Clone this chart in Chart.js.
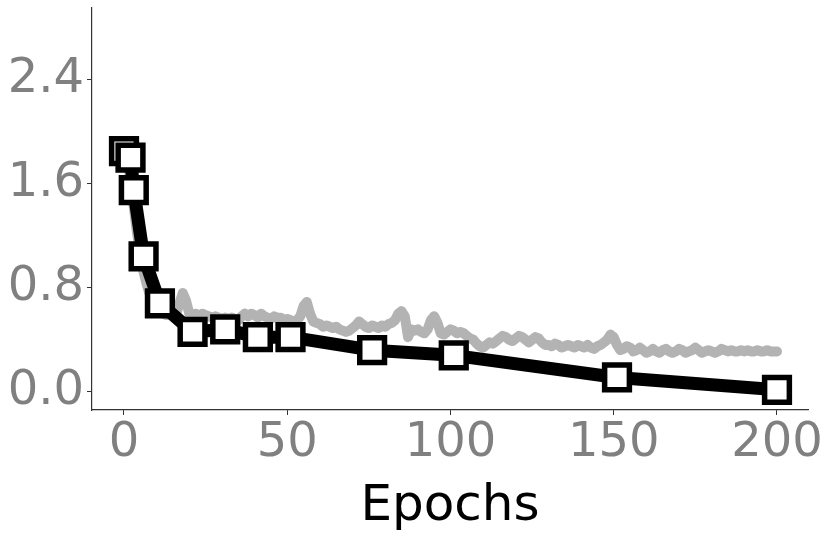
<!DOCTYPE html>
<html>
<head>
<meta charset="utf-8">
<script src="https://cdn.jsdelivr.net/npm/chart.js@4/dist/chart.umd.min.js"></script>
<style>
  body { margin: 0; background: #fff; }
  canvas { display: block; }
</style>
</head>
<body>
<canvas id="myChart" width="831" height="539"></canvas>
<script>
const ctx = document.getElementById("myChart").getContext("2d");

// black line w/ square markers
const markerEpochs = [0, 2, 3, 6, 11, 21, 31, 41, 51, 76, 101, 151, 200];
const markerLoss = [1.85, 1.80, 1.55, 1.04, 0.68, 0.46, 0.48, 0.42, 0.42, 0.32, 0.28, 0.11, 0.015];

// gray noisy curve, one value per epoch 0..200
const curveLoss = [
	1.86, 1.80, 1.62, 1.42, 1.22, 1.05, 0.92, 0.82, 0.74, 0.68,
	0.64, 0.61, 0.60, 0.59, 0.60, 0.59, 0.60, 0.68, 0.76, 0.70,
	0.60, 0.59, 0.60, 0.58, 0.60, 0.59, 0.58, 0.57, 0.58, 0.57,
	0.56, 0.57, 0.56, 0.57, 0.56, 0.55, 0.58, 0.60, 0.58, 0.60,
	0.59, 0.57, 0.60, 0.58, 0.57, 0.56, 0.58, 0.57, 0.57, 0.55,
	0.56, 0.55, 0.54, 0.55, 0.58, 0.66, 0.69, 0.60, 0.54, 0.53,
	0.52, 0.50, 0.51, 0.50, 0.49, 0.50, 0.48, 0.47, 0.46, 0.47,
	0.49, 0.51, 0.54, 0.52, 0.50, 0.49, 0.51, 0.50, 0.49, 0.51,
	0.50, 0.52, 0.53, 0.55, 0.60, 0.62, 0.58, 0.42, 0.48, 0.47,
	0.48, 0.46, 0.45, 0.48, 0.55, 0.58, 0.53, 0.45, 0.44, 0.46,
	0.48, 0.47, 0.45, 0.46, 0.45, 0.43, 0.41, 0.40, 0.37, 0.35,
	0.34, 0.36, 0.38, 0.37, 0.39, 0.41, 0.43, 0.42, 0.40, 0.39,
	0.41, 0.43, 0.42, 0.40, 0.38, 0.40, 0.42, 0.41, 0.38, 0.36,
	0.36, 0.35, 0.37, 0.36, 0.34, 0.35, 0.36, 0.35, 0.34, 0.36,
	0.35, 0.34, 0.36, 0.34, 0.33, 0.35, 0.36, 0.38, 0.40, 0.44,
	0.42, 0.36, 0.32, 0.33, 0.35, 0.34, 0.31, 0.32, 0.34, 0.32,
	0.30, 0.31, 0.33, 0.31, 0.30, 0.32, 0.33, 0.31, 0.30, 0.31,
	0.33, 0.32, 0.30, 0.31, 0.32, 0.34, 0.32, 0.30, 0.31, 0.32,
	0.31, 0.30, 0.31, 0.33, 0.32, 0.31, 0.32, 0.31, 0.31, 0.32,
	0.31, 0.32, 0.31, 0.31, 0.32, 0.31, 0.31, 0.32, 0.31, 0.31,
	0.31
];

const xTicks = [0, 50, 100, 150, 200];
const yTicks = [0.0, 0.8, 1.6, 2.4];

const markerPoints = markerEpochs.map((e, i) => ({ x: e, y: markerLoss[i] }));
const curvePoints = curveLoss.map((v, i) => ({ x: i, y: v }));

const tickFont = { family: "'DejaVu Sans'", size: 48 };

const chart = new Chart(ctx, {
	type: "line",
	data: {
		datasets: [{
			label: "markers",
			data: markerPoints,
			order: 0,
			borderColor: "#000",
			borderWidth: 13,
			borderJoinStyle: "round",
			pointStyle: "rect",
			pointRadius: 17.5,
			pointBorderWidth: 5.5,
			pointBackgroundColor: "#fff",
			pointBorderColor: "#000",
			tension: 0
		}, {
			label: "curve",
			data: curvePoints,
			order: 1,
			borderColor: "#b3b3b3",
			borderWidth: 10,
			borderJoinStyle: "round",
			borderCapStyle: "round",
			pointRadius: 0,
			tension: 0
		}]
	},
	options: {
		responsive: false,
		animation: false,
		devicePixelRatio: 1,
		layout: { autoPadding: false, padding: { top: 8, right: 23, left: 0, bottom: 0 } },
		plugins: { legend: { display: false }, tooltip: { enabled: false } },
		scales: {
			x: {
				type: "linear",
				min: -9.8,
				max: 209.5,
				afterBuildTicks: (scale) => { scale.ticks = xTicks.map(v => ({ value: v })); },
				afterFit: (scale) => { scale.height = 129; scale.paddingLeft = 0; scale.paddingRight = 0; },
				border: { display: true, color: "#333", width: 1.2 },
				grid: { display: true, drawOnChartArea: false, drawTicks: true, tickLength: 5, color: "#333" },
				ticks: { color: "#808080", font: tickFont, padding: 0, maxRotation: 0 },
				title: { display: true, text: "Epochs", color: "#000", font: { family: "'DejaVu Sans'", size: 50 }, padding: { top: 0, bottom: 2 } }
			},
			y: {
				type: "linear",
				min: -0.14,
				max: 2.95,
				afterBuildTicks: (scale) => { scale.ticks = yTicks.map(v => ({ value: v })); },
				afterFit: (scale) => { scale.width = 92; scale.paddingTop = 0; scale.paddingBottom = 0; },
				border: { display: true, color: "#333", width: 1.2 },
				grid: { display: true, drawOnChartArea: false, drawTicks: true, tickLength: 5, color: "#333" },
				ticks: { color: "#808080", font: tickFont, padding: 3, callback: (v) => v.toFixed(1) }
			}
		}
	}
});
</script>
</body>
</html>
